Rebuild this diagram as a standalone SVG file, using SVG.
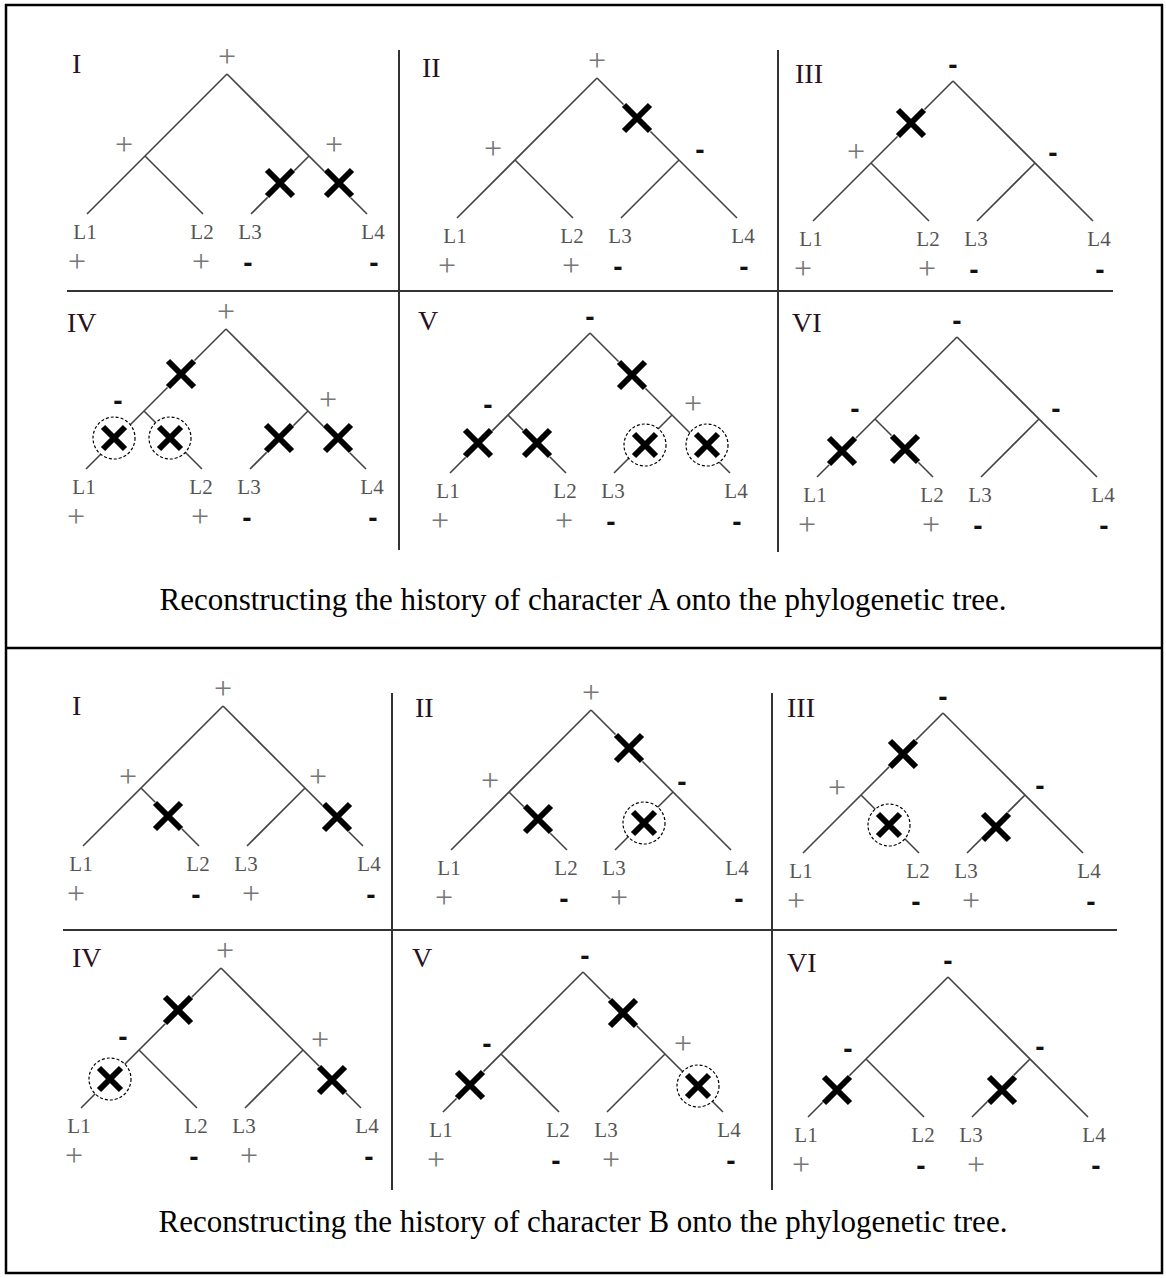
<svg xmlns="http://www.w3.org/2000/svg" xmlns:xlink="http://www.w3.org/1999/xlink" width="1166" height="1278" viewBox="0 0 1166 1278">
<style>
.br{stroke:#444;stroke-width:1.6;fill:none}
.dv{stroke:#333;stroke-width:2;fill:none}
.lb{font-family:"Liberation Serif",serif;font-size:21px;fill:#555;text-anchor:middle}
.pl{font-family:"Liberation Serif",serif;font-size:32px;fill:#777;text-anchor:middle}
.mn{font-family:"Liberation Sans",sans-serif;font-weight:bold;font-size:28px;fill:#111;text-anchor:middle}
.rn{font-family:"Liberation Serif",serif;font-size:28px;fill:#2a1020}
.cap{font-family:"Liberation Serif",serif;font-size:31px;fill:#000;text-anchor:middle}
.xm{stroke:#000;stroke-width:6;fill:none}
</style>
<defs>
<g id="tree">
<path class="br" d="M0,0 L-140,140 M0,0 L140,140 M-82,82 L-24,140 M82,82 L24,140"/>
<text class="lb" x="-142" y="165">L1</text>
<text class="lb" x="-25" y="165">L2</text>
<text class="lb" x="23" y="165">L3</text>
<text class="lb" x="146" y="165">L4</text>
</g>
<g id="sa">
<text class="pl" x="-150" y="198">+</text>
<text class="pl" x="-26" y="198">+</text>
<text class="mn" x="21" y="198">-</text>
<text class="mn" x="147" y="198">-</text>
</g>
<g id="sb">
<text class="pl" x="-147" y="198">+</text>
<text class="mn" x="-27" y="198">-</text>
<text class="pl" x="28" y="198">+</text>
<text class="mn" x="148" y="198">-</text>
</g>
<g id="x">
<circle r="19" fill="#fff"/>
<path class="xm" d="M-13,-13 L13,13 M13,-13 L-13,13"/>
</g>
<g id="cx">
<circle r="21" fill="#fff" stroke="#000" stroke-width="1.2" stroke-dasharray="3 2"/>
<path class="xm" d="M-11,-11 L11,11 M11,-11 L-11,11"/>
</g>
</defs>

<g id="frame">
<rect x="6" y="5" width="1156" height="1268" fill="none" stroke="#000" stroke-width="2.5"/>
<line x1="6" y1="648" x2="1162" y2="648" stroke="#000" stroke-width="2.5"/>
</g>

<g id="dividers">
<line class="dv" x1="399" y1="50" x2="399" y2="550"/>
<line class="dv" x1="778" y1="50" x2="778" y2="552"/>
<line class="dv" x1="67" y1="291" x2="1113" y2="291"/>
<line class="dv" x1="392" y1="693" x2="392" y2="1190"/>
<line class="dv" x1="772" y1="693" x2="772" y2="1190"/>
<line class="dv" x1="63" y1="930" x2="1117" y2="930"/>
</g>

<!-- Character A -->
<g id="A1">
<text class="rn" x="72" y="73">I</text>
<g transform="translate(227,74)">
<use href="#tree"/><use href="#sa"/>
<text class="pl" x="0" y="-7">+</text>
<text class="pl" x="-103" y="81">+</text>
<text class="pl" x="107" y="81">+</text>
<use href="#x" x="53" y="109"/><use href="#x" x="112" y="109"/>
</g>
</g>
<g id="A2">
<text class="rn" x="422" y="77">II</text>
<g transform="translate(597,78)">
<use href="#tree"/><use href="#sa"/>
<text class="pl" x="0" y="-7">+</text>
<text class="pl" x="-104" y="81">+</text>
<text class="mn" x="103" y="81">-</text>
<use href="#x" x="40" y="40"/>
</g>
</g>
<g id="A3">
<text class="rn" x="795" y="83">III</text>
<g transform="translate(953,81)">
<use href="#tree"/><use href="#sa"/>
<text class="mn" x="0" y="-7">-</text>
<text class="pl" x="-97" y="81">+</text>
<text class="mn" x="100" y="81">-</text>
<use href="#x" x="-42" y="42"/>
</g>
</g>
<g id="A4">
<text class="rn" x="67" y="332">IV</text>
<g transform="translate(226,329)">
<use href="#tree"/><use href="#sa"/>
<text class="pl" x="0" y="-7">+</text>
<text class="mn" x="-108" y="81">-</text>
<text class="pl" x="102" y="81">+</text>
<use href="#x" x="-45" y="45"/>
<use href="#cx" x="-112" y="109"/><use href="#cx" x="-56" y="109"/>
<use href="#x" x="53" y="109"/><use href="#x" x="112" y="109"/>
</g>
</g>
<g id="A5">
<text class="rn" x="418" y="330">V</text>
<g transform="translate(590,333)">
<use href="#tree"/><use href="#sa"/>
<text class="mn" x="0" y="-7">-</text>
<text class="mn" x="-102" y="81">-</text>
<text class="pl" x="103" y="81">+</text>
<use href="#x" x="42" y="42"/>
<use href="#x" x="-112" y="110"/><use href="#x" x="-53" y="110"/>
<use href="#cx" x="55" y="112"/><use href="#cx" x="117" y="112"/>
</g>
</g>
<g id="A6">
<text class="rn" x="792" y="332">VI</text>
<g transform="translate(957,337)">
<use href="#tree"/><use href="#sa"/>
<text class="mn" x="0" y="-7">-</text>
<text class="mn" x="-102" y="81">-</text>
<text class="mn" x="99" y="81">-</text>
<use href="#x" x="-115" y="114"/><use href="#x" x="-52" y="112"/>
</g>
</g>
<text id="captionA" class="cap" x="583" y="610">Reconstructing the history of character A onto the phylogenetic tree.</text>

<!-- Character B -->
<g id="B1">
<text class="rn" x="72" y="715">I</text>
<g transform="translate(223,706)">
<use href="#tree"/><use href="#sb"/>
<text class="pl" x="0" y="-7">+</text>
<text class="pl" x="-95" y="81">+</text>
<text class="pl" x="95" y="81">+</text>
<use href="#x" x="-55" y="110"/><use href="#x" x="114" y="111"/>
</g>
</g>
<g id="B2">
<text class="rn" x="415" y="717">II</text>
<g transform="translate(591,710)">
<use href="#tree"/><use href="#sb"/>
<text class="pl" x="0" y="-7">+</text>
<text class="pl" x="-101" y="81">+</text>
<text class="mn" x="91" y="81">-</text>
<use href="#x" x="38" y="38"/><use href="#x" x="-53" y="109"/>
<use href="#cx" x="53" y="113"/>
</g>
</g>
<g id="B3">
<text class="rn" x="787" y="717">III</text>
<g transform="translate(943,713)">
<use href="#tree"/><use href="#sb"/>
<text class="mn" x="0" y="-7">-</text>
<text class="pl" x="-106" y="85">+</text>
<text class="mn" x="97" y="82">-</text>
<use href="#x" x="-40" y="41"/><use href="#cx" x="-54" y="112"/>
<use href="#x" x="53" y="114"/>
</g>
</g>
<g id="B4">
<text class="rn" x="72" y="967">IV</text>
<g transform="translate(221,968)">
<use href="#tree"/><use href="#sb"/>
<text class="pl" x="4" y="-7">+</text>
<text class="mn" x="-98" y="78">-</text>
<text class="pl" x="99" y="82">+</text>
<use href="#x" x="-43" y="42"/><use href="#cx" x="-111" y="111"/>
<use href="#x" x="111" y="112"/>
</g>
</g>
<g id="B5">
<text class="rn" x="412" y="967">V</text>
<g transform="translate(583,972)">
<use href="#tree"/><use href="#sb"/>
<text class="mn" x="2" y="-7">-</text>
<text class="mn" x="-96" y="81">-</text>
<text class="pl" x="100" y="82">+</text>
<use href="#x" x="40" y="41"/><use href="#x" x="-113" y="113"/>
<use href="#cx" x="115" y="114"/>
</g>
</g>
<g id="B6">
<text class="rn" x="787" y="972">VI</text>
<g transform="translate(948,977)">
<use href="#tree"/><use href="#sb"/>
<text class="mn" x="0" y="-7">-</text>
<text class="mn" x="-100" y="81">-</text>
<text class="mn" x="92" y="79">-</text>
<use href="#x" x="-111" y="113"/><use href="#x" x="54" y="113"/>
</g>
</g>
<text id="captionB" class="cap" x="583" y="1232">Reconstructing the history of character B onto the phylogenetic tree.</text>
</svg>
